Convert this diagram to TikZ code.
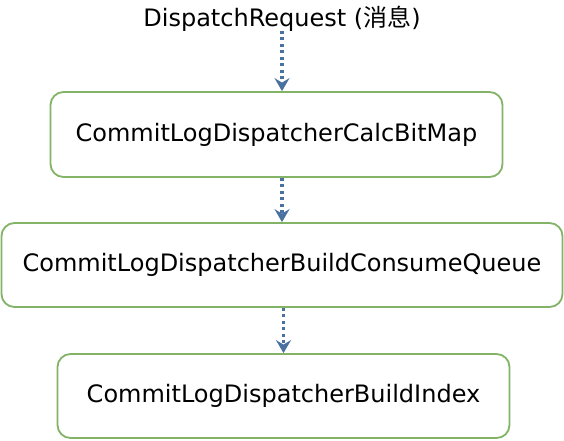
\documentclass[tikz,border=0pt]{standalone}
\usepackage{fontspec}
\setmainfont{DejaVu Sans}
\newfontfamily\cjkfont{Noto Sans CJK SC}
\usetikzlibrary{arrows.meta}
\definecolor{boxgreen}{HTML}{82B366}
\definecolor{arrowblue}{HTML}{4A72A0}
\begin{document}
\begin{tikzpicture}[x=1pt,y=-1pt,
  box/.style={draw=boxgreen,line width=1.8pt,rounded corners=13pt,fill=white,
    inner sep=0pt,font=\fontsize{24}{28}\selectfont},
  flow/.style={draw=arrowblue,line width=3.2pt,dash pattern=on 3pt off 3.5pt,
    -{Stealth[length=13pt,width=15pt,inset=4.5pt]}},
  ttl/.style={inner sep=0pt,font=\fontsize{24}{28}\selectfont}]
\useasboundingbox (0,0) rectangle (564,440);
\node[ttl] (title) at (282,19) {DispatchRequest ({\cjkfont 消息})};
\node[box,minimum width=452pt,minimum height=85pt] (calc) at (276.5,134.5) {CommitLogDispatcherCalcBitMap};
\node[box,minimum width=561pt,minimum height=84pt] (cq) at (282,265) {CommitLogDispatcherBuildConsumeQueue};
\node[box,minimum width=452pt,minimum height=84pt] (idx) at (283.5,396) {CommitLogDispatcherBuildIndex};
\draw[flow] ([yshift=1pt]title.south) -- (title.south |- calc.north);
\draw[flow] (calc.south -| cq.north) -- (cq.north);
\draw[flow] (cq.south -| idx.north) -- (idx.north);
\end{tikzpicture}
\end{document}
